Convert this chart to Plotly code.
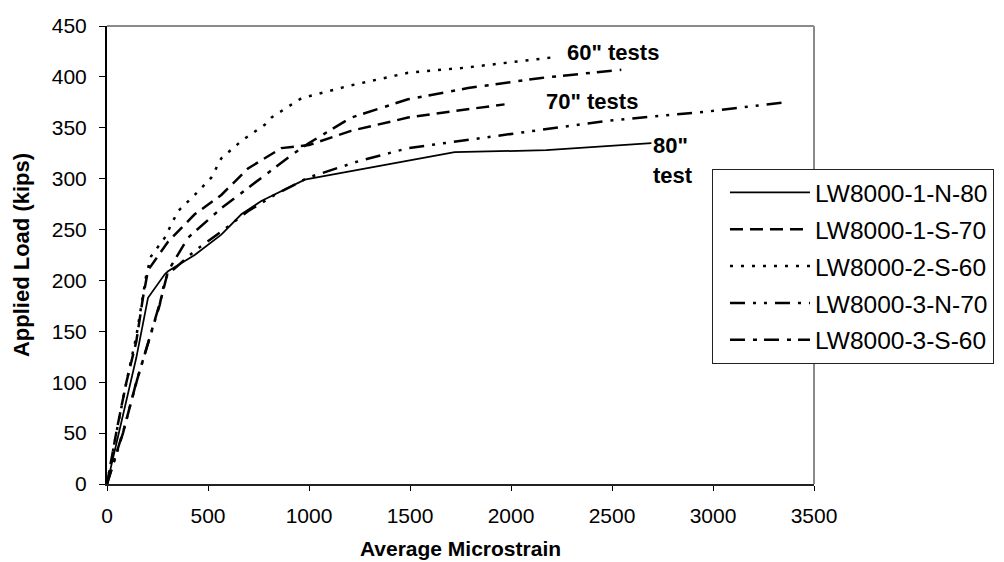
import plotly.graph_objects as go

# ---- data (Average Microstrain vs Applied Load, kips) ----
n80_x = [0, 145, 203, 286, 302, 434, 566, 665, 764, 880, 979, 1721, 2175, 2695]
n80_y = [0, 124, 183, 206, 209, 225, 245, 265, 278, 289, 299, 326, 328, 335]

s70_x = [0, 50, 96, 145, 178, 203, 302, 434, 566, 698, 863, 1000, 1208, 1490, 1703, 1968]
s70_y = [0, 55, 100, 140, 183, 210, 238, 265, 284, 310, 330, 333, 347, 360, 366, 373]

s60_2_x = [0, 46, 96, 145, 178, 195, 219, 286, 351, 434, 516, 566, 665, 781, 813, 962, 1193, 1490, 1770, 2050, 2198]
s60_2_y = [0, 50, 100, 145, 185, 206, 224, 242, 268, 284, 301, 320, 337, 353, 360, 379, 391, 404, 409, 416, 419]

n70_3_x = [0, 79, 145, 211, 261, 286, 302, 434, 566, 698, 830, 995, 1243, 1490, 1753, 2150, 2480, 2975, 3355]
n70_3_y = [0, 50, 100, 143, 176, 200, 206, 229, 248, 268, 284, 301, 317, 330, 337, 348, 357, 366, 375]

s60_3_x = [0, 85, 150, 215, 265, 302, 401, 566, 698, 912, 1000, 1209, 1490, 1787, 2150, 2546]
s60_3_y = [0, 55, 103, 146, 180, 209, 242, 271, 291, 323, 335, 360, 378, 389, 399, 407]

series_names = ["LW8000-1-N-80", "LW8000-1-S-70", "LW8000-2-S-60", "LW8000-3-N-70", "LW8000-3-S-60"]
x_ticks = [0, 500, 1000, 1500, 2000, 2500, 3000, 3500]
y_ticks = [0, 50, 100, 150, 200, 250, 300, 350, 400, 450]

# annotation labels with their data anchors
label_texts = ['60" tests', '70" tests', '80"', 'test']
label_x = [2505, 2401, 2693, 2693]
label_y = [423.5, 376, 333, 303.6]
label_anchor = ["center", "center", "left", "left"]

FONT = "Arial, 'Liberation Sans', sans-serif"

styles = [
    dict(dash="solid", width=1.75),
    dict(dash="13px,7px", width=2.5),
    dict(dash="3px,8px", width=2.5),
    dict(dash="15px,8px,3px,8px,3px,8px", width=2.5),
    dict(dash="15px,8px,4px,7px", width=2.5),
]
data = [(n80_x, n80_y), (s70_x, s70_y), (s60_2_x, s60_2_y), (n70_3_x, n70_3_y), (s60_3_x, s60_3_y)]

fig = go.Figure()
for i, (name, (xs, ys), st) in enumerate(zip(series_names, data, styles)):
    fig.add_trace(go.Scatter(
        x=xs, y=ys, mode="lines", name=name, legendgroup=f"g{i}",
        line=dict(color="black", width=st["width"], dash=st["dash"]),
    ))

for t, x, y, a in zip(label_texts, label_x, label_y, label_anchor):
    fig.add_annotation(x=x, y=y, text=t, showarrow=False, xanchor=a, yanchor="middle",
                       font=dict(family=FONT, size=22, color="black", weight="bold"))

# top and right frame lines (gray)
fig.add_shape(type="line", xref="paper", yref="paper", x0=0, x1=1, y0=1, y1=1,
              line=dict(color="#8a8a8a", width=2))
fig.add_shape(type="line", xref="paper", yref="paper", x0=1, x1=1, y0=0, y1=1,
              line=dict(color="#8a8a8a", width=2))

fig.update_layout(
    width=1004, height=562,
    margin=dict(l=99, r=198, t=18, b=86, autoexpand=False),
    paper_bgcolor="white", plot_bgcolor="white",
    font=dict(family=FONT, size=21, color="black"),
    showlegend=True,
    legend=dict(
        x=0.8557, y=0.6878, xanchor="left", yanchor="top",
        bgcolor="white", bordercolor="#222", borderwidth=1,
        font=dict(family=FONT, size=24.5, color="black"),
        itemwidth=80, traceorder="grouped", tracegroupgap=2,
        indentation=12,
    ),
    xaxis=dict(
        range=[0, 3500], tickvals=x_ticks, ticktext=[str(v) for v in x_ticks],
        showgrid=False, zeroline=False, showline=True, linecolor="#222", linewidth=2,
        ticks="outside", ticklen=5, tickcolor="black", tickwidth=1,
        ticklabelstandoff=7,
        title=dict(text="<b>Average Microstrain</b>", standoff=15,
                   font=dict(family=FONT, size=21)),
        tickfont=dict(family=FONT, size=21),
    ),
    yaxis=dict(
        range=[0, 450], tickvals=y_ticks, ticktext=[str(v) for v in y_ticks],
        showgrid=False, zeroline=False, showline=True, linecolor="black", linewidth=2,
        ticks="outside", ticklen=6, tickcolor="black", tickwidth=1,
        ticklabelstandoff=8,
        title=dict(text="<b>Applied Load (kips)</b>", standoff=16,
                   font=dict(family=FONT, size=22)),
        tickfont=dict(family=FONT, size=21),
    ),
)

fig.write_html("out.html")
